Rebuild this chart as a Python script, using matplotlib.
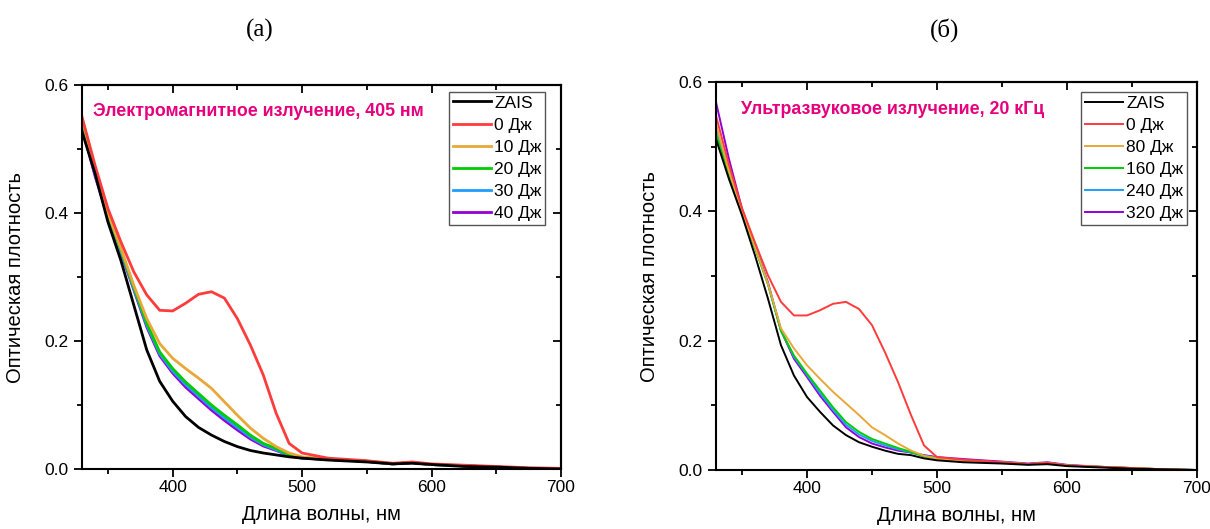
import numpy as np
import matplotlib
matplotlib.use('Agg')
from matplotlib import pyplot as plt
from matplotlib.ticker import MultipleLocator

plt.rcParams['font.family'] = ['Liberation Sans', 'DejaVu Sans']

# wavelength grid, nm
wl = [330, 340, 350, 360, 370, 380, 390, 400, 410, 420, 430, 440, 450, 460, 470,
      480, 490, 500, 520, 550, 570, 585, 600, 625, 650, 675, 700]

tail_a = [0.015, 0.012, 0.008, 0.010, 0.007, 0.005, 0.003, 0.001, 0.0]
tail_b = [0.014, 0.012, 0.009, 0.011, 0.007, 0.005, 0.003, 0.001, 0.0]

# (a) electromagnetic, 405 nm
labels_a = ['ZAIS', '0 Дж', '10 Дж', '20 Дж', '30 Дж', '40 Дж']
zais_a = [0.527, 0.462, 0.386, 0.326, 0.256, 0.186, 0.137, 0.106, 0.082, 0.065, 0.053, 0.043,
          0.035, 0.029, 0.025, 0.022, 0.019, 0.017, 0.014, 0.011, 0.008, 0.009, 0.007, 0.004,
          0.003, 0.001, 0.0]
e0_a = [0.550, 0.475, 0.407, 0.355, 0.308, 0.272, 0.248, 0.247, 0.259, 0.273, 0.277, 0.267,
        0.235, 0.194, 0.147, 0.087, 0.040, 0.025, 0.017, 0.013, 0.009, 0.011, 0.008, 0.006,
        0.004, 0.002, 0.001]
e10_a = [0.548, 0.468, 0.400, 0.345, 0.287, 0.235, 0.196, 0.173, 0.157, 0.142, 0.126, 0.105,
         0.084, 0.064, 0.048, 0.035, 0.025, 0.019] + tail_a
e20_a = [0.545, 0.465, 0.398, 0.343, 0.284, 0.228, 0.183, 0.157, 0.136, 0.118, 0.100, 0.084,
         0.069, 0.053, 0.040, 0.032, 0.022, 0.018] + tail_a
e30_a = [0.540, 0.461, 0.395, 0.340, 0.282, 0.225, 0.180, 0.153, 0.132, 0.114, 0.096, 0.080,
         0.065, 0.050, 0.038, 0.030, 0.021, 0.017] + tail_a
e40_a = [0.535, 0.458, 0.393, 0.338, 0.280, 0.222, 0.177, 0.150, 0.128, 0.110, 0.092, 0.076,
         0.061, 0.047, 0.036, 0.029, 0.021, 0.017] + tail_a

# (б) ultrasound, 20 kHz
labels_b = ['ZAIS', '0 Дж', '80 Дж', '160 Дж', '240 Дж', '320 Дж']
zais_b = [0.512, 0.450, 0.394, 0.332, 0.265, 0.193, 0.146, 0.113, 0.090, 0.069, 0.054, 0.043,
          0.036, 0.030, 0.025, 0.023, 0.018, 0.015, 0.012, 0.010, 0.008, 0.009, 0.006, 0.004,
          0.002, 0.001, 0.0]
e0_b = [0.548, 0.472, 0.405, 0.352, 0.301, 0.260, 0.239, 0.239, 0.247, 0.257, 0.260, 0.249,
        0.224, 0.182, 0.136, 0.085, 0.038, 0.020, 0.016, 0.012, 0.009, 0.011, 0.007, 0.005,
        0.003, 0.001, 0.0]
e80_b = [0.535, 0.462, 0.400, 0.345, 0.288, 0.219, 0.188, 0.162, 0.141, 0.121, 0.103, 0.085,
         0.066, 0.054, 0.041, 0.030, 0.022, 0.018] + tail_b
e160_b = [0.520, 0.455, 0.397, 0.343, 0.287, 0.215, 0.177, 0.149, 0.123, 0.097, 0.074, 0.059,
          0.048, 0.041, 0.034, 0.028, 0.021, 0.018] + tail_b
e240_b = [0.530, 0.460, 0.400, 0.345, 0.288, 0.216, 0.175, 0.147, 0.119, 0.093, 0.070, 0.055,
          0.045, 0.038, 0.032, 0.027, 0.022, 0.019] + tail_b
e320_b = [0.569, 0.481, 0.404, 0.347, 0.290, 0.216, 0.172, 0.144, 0.115, 0.090, 0.066, 0.051,
          0.041, 0.035, 0.030, 0.027, 0.023, 0.020, 0.017, 0.013, 0.010, 0.012, 0.008, 0.005,
          0.003, 0.001, 0.0]

colors = ['#000000', '#ff3b3b', '#e8a838', '#00cc00', '#1e9eff', '#9400d3']
pink = '#e6007e'


def setup_axes(ax):
    ax.set_xlim(330, 700)
    ax.set_ylim(0, 0.6)
    ax.set_xticks([400, 500, 600, 700])
    ax.xaxis.set_minor_locator(MultipleLocator(50))
    ax.yaxis.set_major_locator(MultipleLocator(0.2))
    ax.yaxis.set_minor_locator(MultipleLocator(0.1))
    ax.yaxis.set_major_formatter(plt.FuncFormatter(lambda v, p: '%.1f' % v))
    for s in ax.spines.values():
        s.set_linewidth(1.5)
    ax.tick_params(which='both', direction='out', width=1.3, labelsize=12.5, top=False, right=False)
    ax.tick_params(which='major', length=6)
    ax.tick_params(which='minor', length=3.5)
    ax.tick_params(axis='x', pad=2)
    # inward ticks on top / right like Origin
    sec_x = ax.secondary_xaxis('top')
    sec_x.set_xticks([400, 500, 600, 700])
    sec_x.xaxis.set_minor_locator(MultipleLocator(50))
    sec_x.tick_params(which='both', direction='in', labeltop=False, width=1.3)
    sec_x.tick_params(which='major', length=6)
    sec_x.tick_params(which='minor', length=3.5)
    sec_x.spines['top'].set_linewidth(1.5)
    sec_y = ax.secondary_yaxis('right')
    sec_y.set_yticks([0, 0.2, 0.4, 0.6])
    sec_y.yaxis.set_minor_locator(MultipleLocator(0.1))
    sec_y.tick_params(which='both', direction='in', labelright=False, width=1.3)
    sec_y.tick_params(which='major', length=6)
    sec_y.tick_params(which='minor', length=3.5)
    sec_y.spines['right'].set_linewidth(1.5)
    ax.set_xlabel('Длина волны, нм', fontsize=14.5, labelpad=7)
    ax.set_ylabel('Оптическая плотность', fontsize=14.5, labelpad=14)


fig = plt.figure(figsize=(12.1, 5.29), dpi=100)
ax1 = fig.add_axes([0.0678, 0.1134, 0.3958, 0.7259])
ax2 = fig.add_axes([0.5917, 0.1115, 0.3976, 0.7335])

series_a = [zais_a, e0_a, e10_a, e20_a, e30_a, e40_a]
series_b = [zais_b, e0_b, e80_b, e160_b, e240_b, e320_b]

for vals, lab, col in zip(series_a[::-1], labels_a[::-1], colors[::-1]):
    ax1.plot(wl, vals, color=col, lw=2.0, label=lab)
for vals, lab, col in zip(series_b[::-1], labels_b[::-1], colors[::-1]):
    ax2.plot(wl, vals, color=col, lw=1.4, label=lab)

for ax in (ax1, ax2):
    setup_axes(ax)

leg_kw = dict(loc='upper right', fontsize=12.5, fancybox=False, edgecolor='#555555',
              framealpha=1, borderpad=0.2, labelspacing=0.4, handlelength=2.2,
              handletextpad=0.2, borderaxespad=0)
h, l = ax1.get_legend_handles_labels()
ax1.legend(h[::-1], l[::-1], bbox_to_anchor=(0.967, 0.982), **leg_kw)
h, l = ax2.get_legend_handles_labels()
ax2.legend(h[::-1], l[::-1], bbox_to_anchor=(0.979, 0.974), **leg_kw)

ax1.text(0.023, 0.93, 'Электромагнитное излучение, 405 нм', transform=ax1.transAxes,
         color=pink, fontsize=12.8, fontweight='bold', va='center')
ax2.text(0.052, 0.93, 'Ультразвуковое излучение, 20 кГц', transform=ax2.transAxes,
         color=pink, fontsize=12.8, fontweight='bold', va='center')

fig.text(260 / 1210, 1 - 30 / 529, '(a)', fontsize=18, family='Liberation Serif', ha='center', va='center')
fig.text(945 / 1210, 1 - 30 / 529, '(б)', fontsize=18, family='Liberation Serif', ha='center', va='center')

fig.savefig('out.png', dpi=100)
